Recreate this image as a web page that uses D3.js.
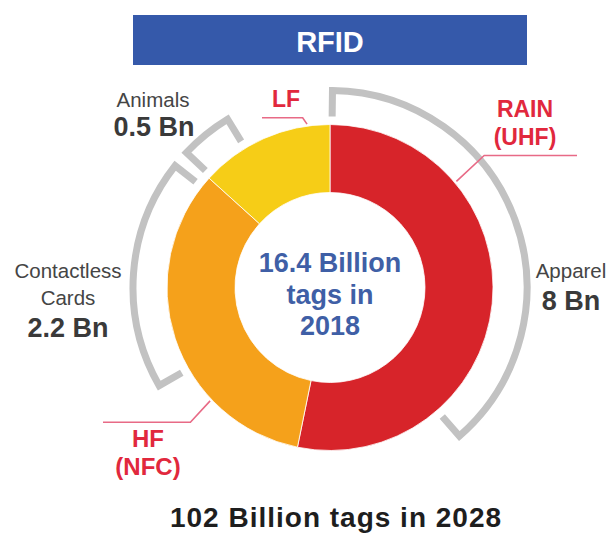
<!DOCTYPE html>
<html>
<head>
<meta charset="utf-8">
<script src="https://cdn.jsdelivr.net/npm/d3@7"></script>
<style>
  body { margin: 0; background: #fff; }
  text { font-family: "Liberation Sans", Arial, sans-serif; }
</style>
</head>
<body>
<svg id="chart" width="612" height="535"></svg>
<script>
// ring segments (share of the ring)
var segments = ['RAIN (UHF)', 'HF (NFC)', 'LF'];
var segmentShares = [53.2, 33.5, 13.3];
var segmentColors = ['#d7242a', '#f5a11b', '#f6cd17'];

// application brackets, in percent of the ring
var apps = ['Apparel', 'Contactless Cards', 'Animals'];
var appValues = ['8 Bn', '2.2 Bn', '0.5 Bn'];
var appStart = [0.2, 66.7, 87.0];
var appEnd = [38.6, 85.6, 91.3];

var title = 'RFID';
var centerLines = ['16.4 Billion', 'tags in', '2018'];
var footer = '102 Billion tags in 2028';

var svg = d3.select('#chart');
var cx = 330, cy = 287.5;
var rOuter = 163, rInner = 95;

// percent of ring -> angle (clockwise from 12 o'clock)
var ang = d3.scaleLinear().domain([0, 100]).range([0, 2 * Math.PI]);

function polar(a, r) {
  return [cx + r * Math.sin(a), cy - r * Math.cos(a)];
}

// title bar
svg.append('rect')
  .attr('x', 133).attr('y', 15).attr('width', 394).attr('height', 50)
  .attr('fill', '#3559aa');
svg.append('text')
  .attr('x', 330).attr('y', 52)
  .attr('text-anchor', 'middle')
  .attr('font-size', 29).attr('font-weight', 'bold')
  .attr('fill', '#fff')
  .text(title);

// grey brackets
var g = svg.append('g');
apps.forEach(function (name, i) {
  var a0 = ang(appStart[i]), a1 = ang(appEnd[i]);
  var rArc = 197, rTick = 171;
  var p = d3.path();
  var s = polar(a0, rTick);
  p.moveTo(s[0], s[1]);
  var s2 = polar(a0, rArc);
  p.lineTo(s2[0], s2[1]);
  p.arc(cx, cy, rArc, a0 - Math.PI / 2, a1 - Math.PI / 2, false);
  var e = polar(a1, rTick);
  p.lineTo(e[0], e[1]);
  g.append('path')
    .attr('d', p.toString())
    .attr('fill', 'none')
    .attr('stroke', '#c2c2c2')
    .attr('stroke-width', 7)
    .attr('stroke-linejoin', 'miter');
});

// donut
var pie = d3.pie().sort(null).value(function (d) { return d; });
var arc = d3.arc().innerRadius(rInner).outerRadius(rOuter);

svg.append('g')
  .attr('transform', 'translate(' + cx + ',' + cy + ')')
  .selectAll('path')
  .data(pie(segmentShares))
  .enter()
  .append('path')
  .attr('d', arc)
  .attr('fill', function (d, i) { return segmentColors[i]; })
  .attr('stroke', '#fff')
  .attr('stroke-width', 0.8);

// centre text
svg.append('g').selectAll('text')
  .data(centerLines)
  .enter()
  .append('text')
  .attr('x', cx)
  .attr('y', function (d, i) { return 272 + i * 31.5; })
  .attr('text-anchor', 'middle')
  .attr('font-size', 27).attr('font-weight', 'bold')
  .attr('fill', '#3f5fa6')
  .text(function (d) { return d; });

// leader lines for the frequency bands
var leaders = [
  { a: 50, rElbow: 203, xEnd: 577 },   // RAIN
  { a: 226.6, rElbow: 194, xEnd: 103 }, // HF
  { a: 352, rElbow: 172, xEnd: 262 }    // LF
];
leaders.forEach(function (l) {
  var a = l.a * Math.PI / 180;
  var p0 = polar(a, rOuter + 2);
  var p1 = polar(a - (l.a === 352 ? 0.02 : 0.01), l.rElbow);
  svg.append('polyline')
    .attr('points', [p0, p1, [l.xEnd, p1[1]]].map(function (p) { return p.join(','); }).join(' '))
    .attr('fill', 'none')
    .attr('stroke', '#e86a86')
    .attr('stroke-width', 1.6);
});

function label(lines, x, y0, step, size, weight, color) {
  svg.append('g').selectAll('text')
    .data(lines)
    .enter()
    .append('text')
    .attr('x', x)
    .attr('y', function (d, i) { return y0 + i * step; })
    .attr('text-anchor', 'middle')
    .attr('font-size', size)
    .attr('font-weight', weight)
    .attr('fill', color)
    .text(function (d) { return d; });
}

// band labels
var red = '#e1283d';
label(['RAIN', '(UHF)'], 525, 117, 28, 23, 'bold', red);
label(['HF', '(NFC)'], 148, 447, 28, 24, 'bold', red);
label(['LF'], 286, 107, 0, 23, 'bold', red);

// application labels
var grey = '#454545';
label([apps[0]], 571, 278, 0, 20.5, 'normal', grey);
label([appValues[0]], 571, 310, 0, 27, 'bold', '#3a3a3a');
label(apps[1].split(' '), 68, 278, 27, 20.5, 'normal', grey);
label([appValues[1]], 68, 337, 0, 27, 'bold', '#3a3a3a');
label([apps[2]], 153, 107, 0, 20.5, 'normal', grey);
label([appValues[2]], 154, 136, 0, 27, 'bold', '#3a3a3a');

// footer
svg.append('text')
  .attr('x', 336).attr('y', 527)
  .attr('text-anchor', 'middle')
  .attr('font-size', 28).attr('font-weight', 'bold')
  .attr('letter-spacing', 1)
  .attr('fill', '#1e1e1e')
  .text(footer);
</script>
</body>
</html>
